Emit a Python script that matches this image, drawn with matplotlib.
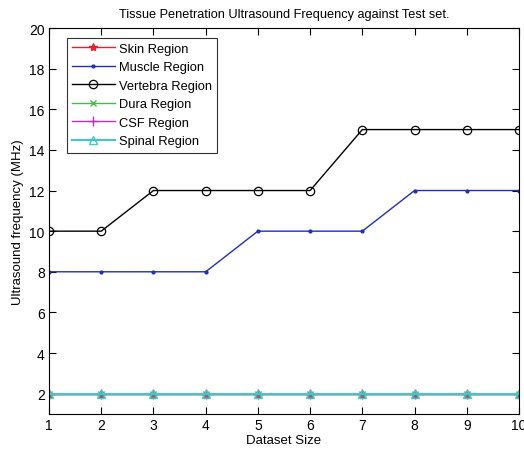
import matplotlib
matplotlib.use("Agg")
import matplotlib.pyplot as plt
import numpy as np

plt.rcParams['font.family'] = ['Liberation Sans', 'DejaVu Sans']

dataset_size = np.arange(1, 11)
skin = [2, 2, 2, 2, 2, 2, 2, 2, 2, 2]
muscle = [8, 8, 8, 8, 10, 10, 10, 12, 12, 12]
vertebra = [10, 10, 12, 12, 12, 12, 15, 15, 15, 15]
dura = [2, 2, 2, 2, 2, 2, 2, 2, 2, 2]
csf = [2, 2, 2, 2, 2, 2, 2, 2, 2, 2]
spinal = [2, 2, 2, 2, 2, 2, 2, 2, 2, 2]

fig = plt.figure(figsize=(5.24, 4.52), dpi=100)
ax = fig.add_axes([49 / 524, 1 - 415 / 452, 470 / 524, 386 / 452])

ax.plot(dataset_size, skin, color="#e8202a", marker="*", markersize=6, lw=1, label="Skin Region")
ax.plot(dataset_size, muscle, color="#2030b0", marker=".", markersize=4, lw=1, label="Muscle Region")
ax.plot(dataset_size, vertebra, color="black", marker="o", markersize=6, mfc="none", mew=0.9, lw=1, label="Vertebra Region")
ax.plot(dataset_size, dura, color="#40c040", marker="x", markersize=5, lw=1, label="Dura Region")
ax.plot(dataset_size, csf, color="#c030c0", marker="+", markersize=7, lw=1, label="CSF Region")
ax.plot(dataset_size, spinal, color="#40c8c8", marker="^", markersize=6, mfc="none", lw=1.5, label="Spinal Region")

ax.set_xlim(1, 10)
ax.set_ylim(1, 20)
ax.set_xticks(dataset_size)
ax.set_yticks(np.arange(2, 21, 2))
ax.tick_params(direction="in", top=True, right=True, labelsize=10, length=5, pad=3)
for s in ax.spines.values():
    s.set_linewidth(0.8)

ax.set_xlabel("Dataset Size", fontsize=9.5, labelpad=1)
ax.set_ylabel("Ultrasound frequency (MHz)", fontsize=9.5, labelpad=4)
ax.set_title("Tissue Penetration Ultrasound Frequency against Test set.", fontsize=9.2, pad=8)

leg = ax.legend(loc="upper left", bbox_to_anchor=(0.038, 0.975), fontsize=9.3, frameon=True,
                fancybox=False, edgecolor="black", handlelength=3.3, labelspacing=0.5,
                borderpad=0.4, handletextpad=0.3, borderaxespad=0)
leg.get_frame().set_linewidth(0.8)

fig.savefig("out.png", dpi=100)
